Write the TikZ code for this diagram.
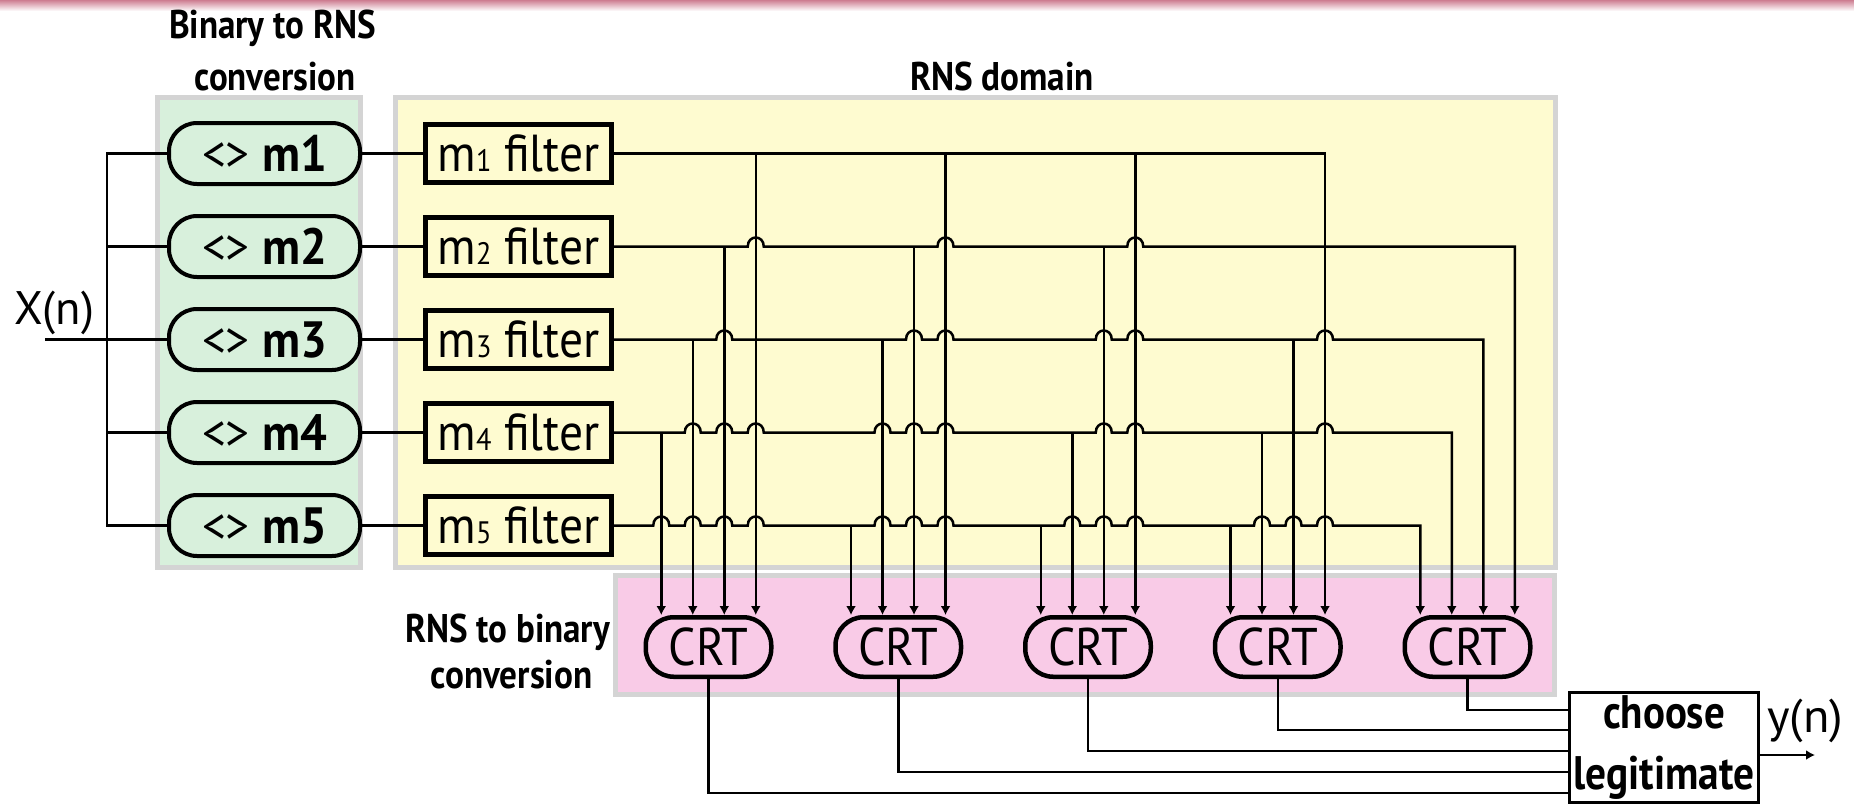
\documentclass[tikz,border=0pt]{standalone}
\usepackage{fontspec}
\setmainfont{PT Sans}
\usetikzlibrary{arrows.meta,calc}
\newcommand\fitw[2]{\resizebox{#1}{\height}{#2}}
\definecolor{gfill}{RGB}{216,240,220}
\definecolor{yfill}{RGB}{254,251,208}
\definecolor{pfill}{RGB}{249,203,231}
\definecolor{pborder}{RGB}{212,212,212}
\definecolor{topband}{RGB}{205,125,145}
\begin{document}
\begin{tikzpicture}[x=1pt,y=-1pt,
  panel/.style={draw=pborder, line width=5pt},
  conv/.style={draw, line width=4pt, rounded corners=28pt, fill=gfill, minimum width=191pt, minimum height=61pt, inner sep=0pt, font=\fontsize{51}{56}\selectfont},
  filt/.style={draw, line width=5pt, fill=yfill, minimum width=186pt, minimum height=58pt, inner sep=0pt, font=\fontsize{52}{56}\selectfont},
  crt/.style={draw, line width=4.5pt, rounded corners=28pt, fill=pfill, minimum width=125.5pt, minimum height=59.5pt, inner sep=0pt, font=\fontsize{53}{56}\selectfont},
  chbox/.style={draw, line width=3pt, fill=white, minimum width=189pt, minimum height=110pt, inner sep=0pt, align=center, font=\fontsize{47}{61}\selectfont\bfseries},
  title/.style={font=\fontsize{40}{44}\selectfont\bfseries, anchor=base, inner sep=0pt},
  lbl/.style={font=\fontsize{47}{50}\selectfont, anchor=base west, inner sep=0pt},
  wire/.style={line width=2.5pt},
  arr/.style={wire, -{Latex[length=9pt,width=10pt]}}
]
\useasboundingbox (0,0) rectangle (1854,806);
\shade[top color=topband, bottom color=white] (0,0) rectangle (1854,11);

% panels
\draw[panel, fill=gfill] (157.5,97.5) rectangle (360.5,567.5);
\draw[panel, fill=yfill] (395.5,97.5) rectangle (1555.5,567.5);
\draw[panel, fill=pfill] (615.5,575.5) rectangle (1554.5,694.5);

% titles
\node[title] (t1) at (272.5,38) {\fitw{207pt}{Binary to RNS}};
\node[title] (t2) at (275,90) {\fitw{161pt}{conversion}};
\node[title] (t3) at (1002,90) {\fitw{184pt}{RNS domain}};
\node[title] (t4) at (507.5,642) {\fitw{205pt}{RNS to binary}};
\node[title] (t5) at (511.5,688) {\fitw{162pt}{conversion}};

% converters and filters
\foreach \i/\y in {1/153.5,2/246.5,3/339.5,4/432.5,5/525.5}{
  \node[conv] (v\i) at (264.5,\y) {\raisebox{-2pt}{\fitw{125pt}{<> \textbf{m\i}}}};
  \node[filt] (f\i) at (518.5,\y) {\raisebox{-4pt}{\fitw{162pt}{m{\fontsize{31}{31}\selectfont\i} filter}}};
  \draw[wire] (v\i.east) -- (f\i.west);
}

% CRT nodes
\foreach \k/\x in {1/708.5,2/898.25,3/1088,4/1277.75,5/1467.5}{
  \node[crt] (c\k) at (\x,647) {\fitw{80pt}{CRT}};
}

% input bus
\node[lbl] (xn) at (14,324) {\fitw{80pt}{X(n)}};
\coordinate (xin) at (45,339.5);
\coordinate (bt) at (107,153.5);
\coordinate (bb) at (107,525.5);
\draw[wire] (v1.west) -- (bt) -- (bb) -- (v5.west);
\foreach \i in {2,3,4} \draw[wire] (v\i.west) -- (bt |- v\i.west);
\draw[wire] (xin) -- (bt |- xin);

% row 1
\draw[arr] (f1.east) -- (1325,153.5) -- (1325,0 |- c4.north);
% row 2
\draw[arr] (f2.east)
  foreach \x in {755.75,945.5,1135.25}{ -- ({\x-8},246.5) .. controls ({\x-8},234.5) and ({\x+8},234.5) .. ({\x+8},246.5) }
  -- (1514.75,246.5) -- (1514.75,0 |- c5.north);
% row 3
\draw[arr] (f3.east)
  foreach \x in {724.25,914,945.5,1103.75,1135.25,1325}{ -- ({\x-8},339.5) .. controls ({\x-8},327.5) and ({\x+8},327.5) .. ({\x+8},339.5) }
  -- (1483.25,339.5) -- (1483.25,0 |- c5.north);
% row 4
\draw[arr] (f4.east)
  foreach \x in {692.75,724.25,755.75,882.5,914,945.5,1103.75,1135.25,1325}{ -- ({\x-8},432.5) .. controls ({\x-8},420.5) and ({\x+8},420.5) .. ({\x+8},432.5) }
  -- (1451.75,432.5) -- (1451.75,0 |- c5.north);
% row 5
\draw[arr] (f5.east)
  foreach \x in {661.25,692.75,724.25,755.75,882.5,914,945.5,1072.25,1103.75,1135.25,1262,1293.5,1325}{ -- ({\x-8},525.5) .. controls ({\x-8},513.5) and ({\x+8},513.5) .. ({\x+8},525.5) }
  -- (1420.25,525.5) -- (1420.25,0 |- c5.north);

% drops (T junctions)
\foreach \x/\y/\k in {755.75/153.5/1, 945.5/153.5/2, 1135.25/153.5/3,
  724.25/246.5/1, 914/246.5/2, 1103.75/246.5/3,
  692.75/339.5/1, 882.5/339.5/2, 1293.5/339.5/4,
  661.25/432.5/1, 1072.25/432.5/3, 1262/432.5/4,
  851/525.5/2, 1040.75/525.5/3, 1230.5/525.5/4}{
  \draw[arr] (\x,\y) -- (\x,0 |- c\k.north);
}

% choose legitimate
\node[chbox] (cl) at (1664,747.5) {\fitw{122pt}{choose}\\\fitw{181pt}{legitimate}};
\foreach \k/\y in {1/793,2/772,3/751,4/730,5/710}{
  \coordinate (h\k) at (0,\y);
  \draw[wire] (c\k.south) |- (cl.west |- h\k);
}
\node[lbl] (yn) at (1767,732) {\fitw{76pt}{y(n)}};
\coordinate (yo) at (1815,755);
\draw[arr] (cl.east |- yo) -- (yo);
\end{tikzpicture}
\end{document}
